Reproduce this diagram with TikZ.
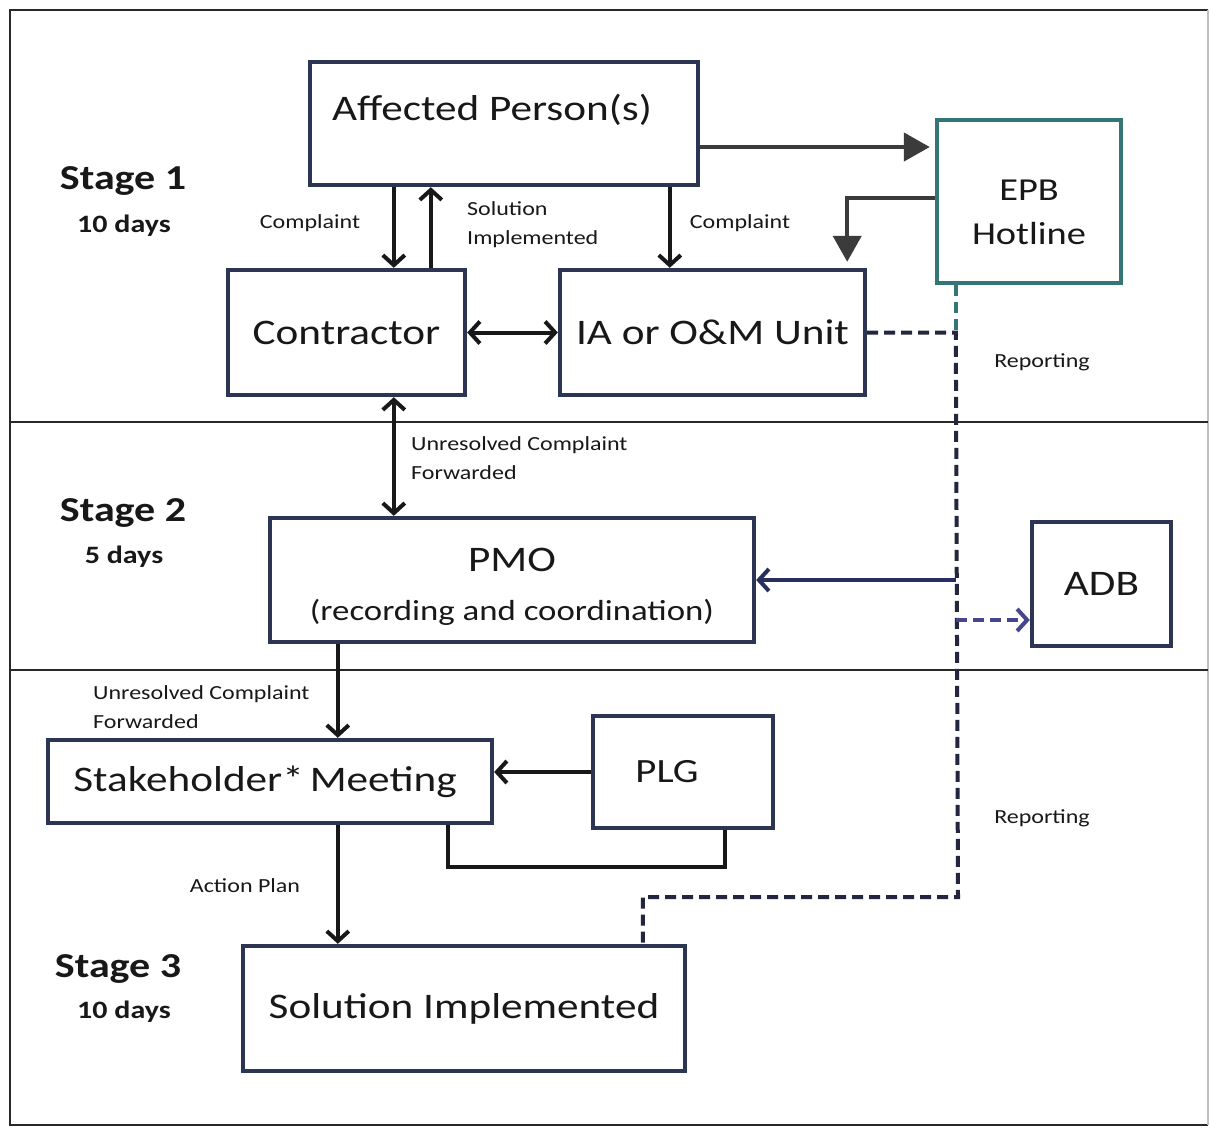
\documentclass[tikz,border=0pt]{standalone}
\usepackage{fontspec}
\setmainfont{Carlito}[FakeStretch=1.2]
\usetikzlibrary{arrows.meta}
\definecolor{boxc}{RGB}{44,54,84}
\definecolor{tealc}{RGB}{52,118,120}
\definecolor{inkc}{RGB}{24,24,24}
\definecolor{dashc}{RGB}{34,38,62}
\definecolor{adbc}{RGB}{70,70,140}
\definecolor{pmoc}{RGB}{40,46,96}
\definecolor{framec}{RGB}{40,40,40}
\begin{document}
\begin{tikzpicture}[x=1pt,y=-1pt,
  box/.style={draw=boxc, line width=4.4pt, fill=white, text=inkc,
    font=\fontsize{36}{40}\selectfont, align=center, inner sep=0pt},
  boxtext/.style={text=inkc, font=\fontsize{36}{40}\selectfont, align=center, inner sep=0pt},
  lbl/.style={text=inkc, font=\fontsize{20}{29}\selectfont, align=left, inner sep=0pt},
  stagelbl/.style={text=inkc, font=\bfseries\fontsize{35}{38}\selectfont, inner sep=0pt},
  dayslbl/.style={text=inkc, font=\bfseries\fontsize{25}{28}\selectfont, inner sep=0pt},
  conn/.style={draw=inkc, line width=4pt},
  barbtip/.style={-{Straight Barb[length=10pt,width=22pt]}},
  barb/.style={conn, barbtip},
  barbs/.style={conn, {Straight Barb[length=10pt,width=22pt]}-{Straight Barb[length=10pt,width=22pt]}},
  tri/.style={draw=inkc!85, line width=4.4pt, -{Triangle[length=26pt,width=28pt]}},
  dashln/.style={draw=dashc, line width=4pt, dash pattern=on 11pt off 6pt},
]
\useasboundingbox (0,0) rectangle (1210,1128);
\fill[white] (0,0) rectangle (1210,1128);

% frame and stage separators
\draw[framec, line width=2pt] (1208,10) -- (10,10) -- (10,1125) -- (1208,1125);
\draw[gray!50, line width=1.5pt] (1208,10) -- (1208,1125);
\draw[framec, line width=1.6pt] (10,422) -- (1208,422);
\draw[framec, line width=1.6pt] (10,670) -- (1208,670);

% stage labels
\node[stagelbl] (s1) at (123,181) {Stage 1};
\node[dayslbl]  (d1) at (124,226) {10 days};
\node[stagelbl] (s2) at (123,513) {Stage 2};
\node[dayslbl]  (d2) at (124,557) {5 days};
\node[stagelbl] (s3) at (118,969) {Stage 3};
\node[dayslbl]  (d3) at (124,1012) {10 days};

% boxes
\node[box, minimum width=388pt, minimum height=123pt] (aff) at (504,123.5) {};
\node[boxtext] (afft) at (492,110) {Affected Person(s)};
\node[box, draw=tealc, minimum width=184pt, minimum height=163pt] (epb) at (1029,201.5) {};
\node[boxtext, font=\fontsize{32}{44}\selectfont] (epbt) at (1029,212) {EPB\\Hotline};
\node[box, minimum width=237pt, minimum height=125pt] (con) at (346.5,332.5) {Contractor};
\node[box, minimum width=305pt, minimum height=125pt] (ia) at (712.5,332.5) {IA or O\&M Unit};
\node[box, minimum width=484pt, minimum height=124pt] (pmo) at (512,580) {};
\node[boxtext] (pmot) at (512,560) {PMO};
\node[boxtext, font=\fontsize{29}{32}\selectfont] (pmos) at (512,612) {(recording and coordination)};
\node[box, minimum width=139pt, minimum height=124pt] (adb) at (1101.5,584) {ADB};
\node[box, minimum width=444pt, minimum height=83pt] (stk) at (270,781.5)
  {\hspace*{-10pt}\raisebox{6pt}{Stakeholder*\,Meeting}};
\node[box, minimum width=180pt, minimum height=112pt, font=\fontsize{34}{38}\selectfont] (plg) at (683,772)
  {\hspace*{-32pt}PLG};
\node[box, minimum width=442pt, minimum height=125pt] (sol) at (464,1008.5) {Solution Implemented};

% stage 1 connectors
\draw[barb] ([xshift=86pt]aff.south west) -- ([xshift=168pt]con.north west);
\draw[barb] ([xshift=205pt]con.north west) -- ([xshift=123pt]aff.south west);
\draw[barb] ([xshift=362pt]aff.south west) -- ([xshift=362pt]aff.south west |- ia.north);
\draw[tri, shorten >=5pt] ([yshift=-23.5pt]aff.east) -- ([yshift=-23.5pt]aff.east -| epb.west);
\draw[tri, shorten >=6pt] ([yshift=3.5pt]epb.west) -| ([xshift=-20pt]ia.north east);
\draw[barbs] (con.east) -- (ia.west);

% stage 2 and 3 connectors
\draw[barbs] ([xshift=168pt]con.south west) -- ([xshift=126pt]pmo.north west);
\draw[barb] ([xshift=70pt]pmo.south west) -- ([xshift=70pt]pmo.south west |- stk.north);
\draw[barb] (plg.west) -- (plg.west -| stk.east);
\draw[conn] ([xshift=402pt]stk.south west) -- ++(0,42) -| ([xshift=134pt]plg.south west);
\draw[barb] ([xshift=292pt]stk.south west) -- ([xshift=292pt]stk.south west |- sol.north);

% reporting line
\coordinate (rep) at ([xshift=21pt]epb.south west);
\coordinate (bend) at (958,897);
\draw[dashln, draw=tealc] (rep) -- (rep |- ia.east);
\draw[dashln] (ia.east) -- (ia.east -| rep) -- (bend) -| ([xshift=402pt]sol.north west);
\draw[draw=pmoc, line width=4pt, barbtip] (rep |- pmo.east) -- (pmo.east);
\draw[draw=adbc, line width=4pt, dash pattern=on 11pt off 6pt, barbtip]
  ([yshift=-36pt]adb.west -| rep) -- ([yshift=-36pt]adb.west);

% connector labels
\node[lbl] (lc1) at (310,223) {Complaint};
\node[lbl, anchor=west] (lsi) at (467,225) {Solution\\Implemented};
\node[lbl] (lc2) at (740,223) {Complaint};
\node[lbl] (lr1) at (1042,362) {Reporting};
\node[lbl, anchor=west] (lu1) at (411,458) {Unresolved Complaint\\Forwarded};
\node[lbl, anchor=west] (lu2) at (93,707) {Unresolved Complaint\\Forwarded};
\node[lbl] (lr2) at (1042,818) {Reporting};
\node[lbl] (lap) at (245,886) {Action Plan};
\end{tikzpicture}
\end{document}
